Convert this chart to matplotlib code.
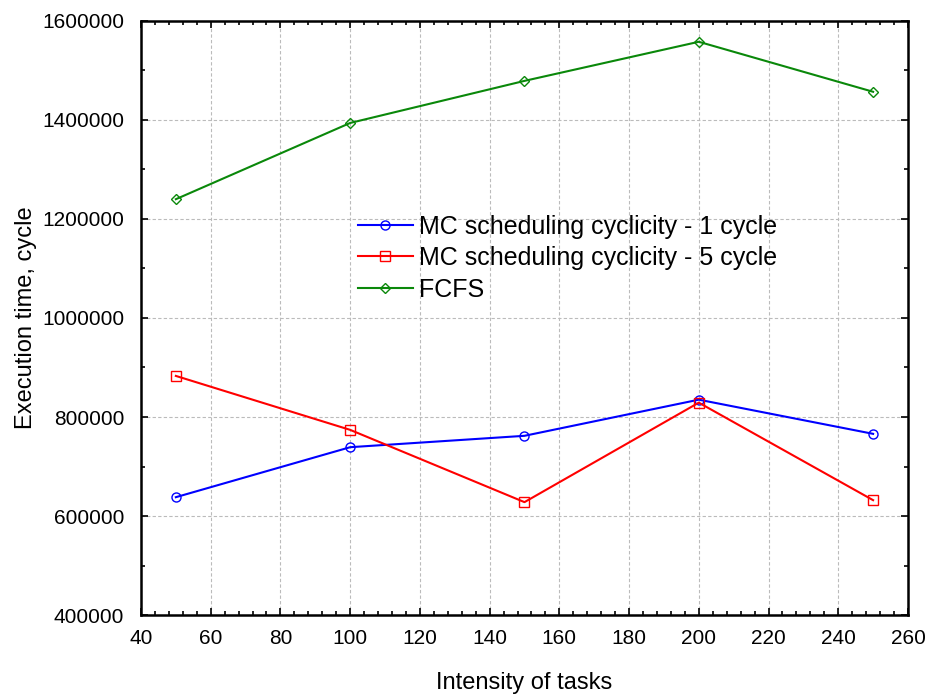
import matplotlib
matplotlib.use("Agg")
import matplotlib.pyplot as plt
from matplotlib.ticker import MultipleLocator, FormatStrFormatter

# dados
intensidade = [50, 100, 150, 200, 250]
mc_1_ciclo = [638000, 739000, 762000, 835000, 766000]
mc_5_ciclo = [883000, 774000, 628000, 829000, 632000]
fcfs = [1240000, 1394000, 1479000, 1558000, 1457000]

rotulos = ["MC scheduling cyclicity - 1 cycle",
           "MC scheduling cyclicity - 5 cycle",
           "FCFS"]

plt.rcParams['font.family'] = ['Liberation Sans', 'DejaVu Sans']

fig = plt.figure(figsize=(9.3, 6.95), dpi=100)
ax = fig.add_axes([0.1516, 0.1151, 0.8247, 0.8547])

ax.plot(intensidade, mc_1_ciclo, color='#0000ff', lw=1.5, marker='o', ms=6.5,
        mfc='none', mec='#0000ff', label=rotulos[0])
ax.plot(intensidade, mc_5_ciclo, color='#ff0000', lw=1.5, marker='s', ms=6.5,
        mfc='none', mec='#ff0000', label=rotulos[1])
ax.plot(intensidade, fcfs, color='#0a880a', lw=1.5, marker='D', ms=5.5,
        mfc='none', mec='#0a880a', label=rotulos[2])

ax.set_xlim(40, 260)
ax.set_ylim(400000, 1600000)
ax.xaxis.set_major_locator(MultipleLocator(20))
ax.xaxis.set_minor_locator(MultipleLocator(4))
ax.yaxis.set_major_locator(MultipleLocator(200000))
ax.yaxis.set_minor_locator(MultipleLocator(100000))
ax.yaxis.set_major_formatter(FormatStrFormatter('%d'))

ax.grid(True, which='major', ls=(0, (3, 2)), color='#bbbbbb', lw=0.8)
ax.tick_params(which='both', direction='in', top=True, right=True,
               labelsize=15, width=1.2)
ax.tick_params(which='major', length=5)
ax.tick_params(which='minor', length=3)
ax.tick_params(axis='x', pad=10)
ax.tick_params(axis='y', pad=12)
for s in ax.spines.values():
    s.set_linewidth(1.8)

ax.set_xlabel("Intensity of tasks", fontsize=17, labelpad=17)
ax.set_ylabel("Execution time, cycle", fontsize=17, labelpad=4)

ax.legend(loc='upper left', bbox_to_anchor=(0.253, 0.712), frameon=False,
          fontsize=18, handlelength=2.2, labelspacing=0.3, handletextpad=0.25)

fig.savefig("out.png", dpi=100)
